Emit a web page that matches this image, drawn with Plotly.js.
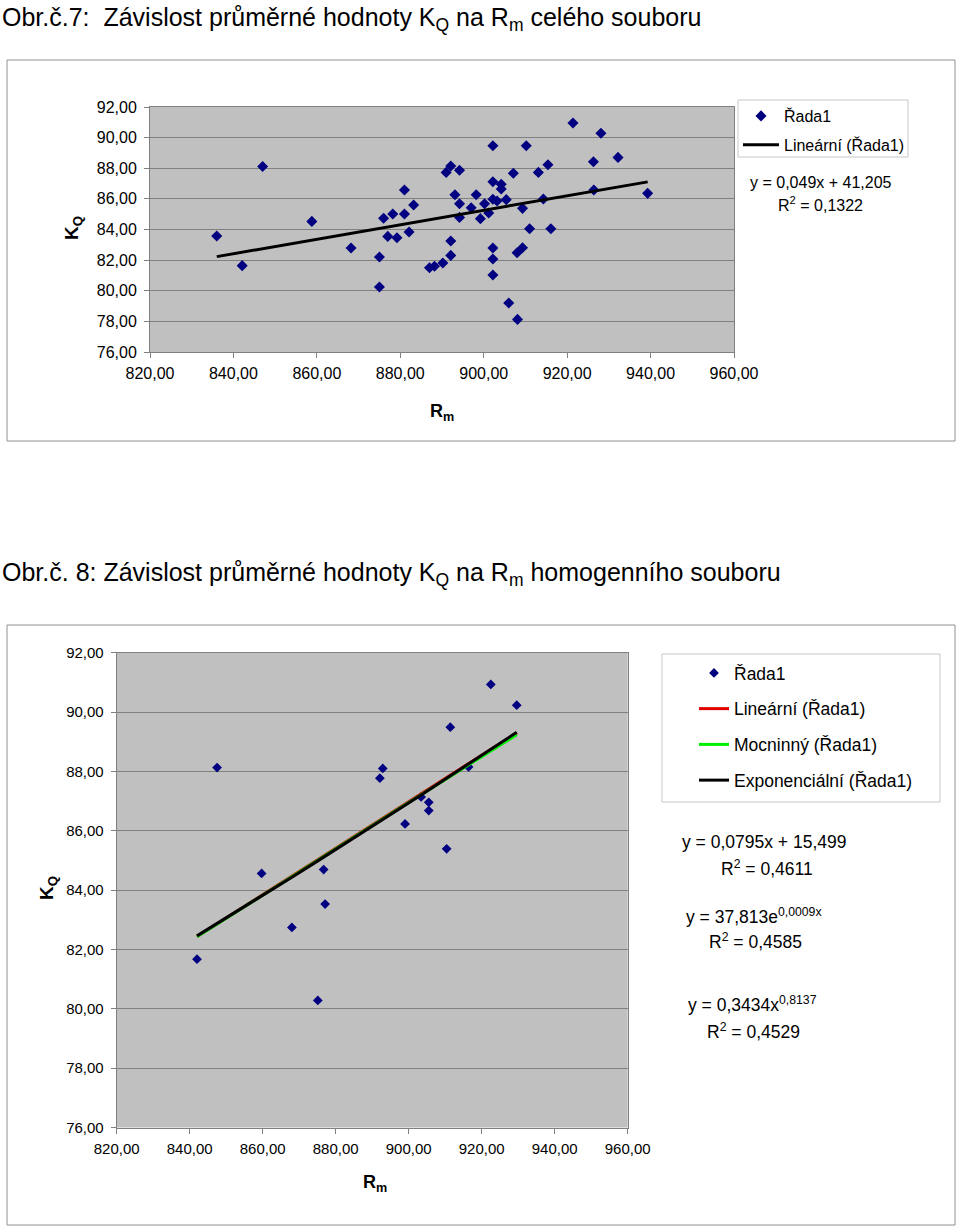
<!DOCTYPE html>
<html>
<head>
<meta charset="utf-8">
<script src="https://cdn.plot.ly/plotly-3.0.1.min.js"></script>
<style>
  html, body { margin: 0; padding: 0; background: #ffffff; }
  #chart { width: 960px; height: 1226px; }
</style>
</head>
<body>
<div id="chart"></div>
<script>
// ---------- DATA: Obr. 7 (celý soubor) ----------
const rmAll = [836.0, 842.1, 847.0, 858.8, 868.2, 875.0, 875.0, 876.0, 877.0, 878.2,
  879.2, 881.0, 881.0, 882.1, 883.2, 887.0, 888.2, 890.2, 892.1, 892.1,
  891.0, 892.1, 894.2, 893.1, 894.2, 894.2, 897.0, 898.2, 899.2, 900.2,
  901.2, 902.2, 902.2, 902.2, 902.2, 902.2, 902.2, 903.2, 904.2, 904.2,
  905.4, 906.0, 907.1, 908.1, 908.0, 909.3, 909.3, 910.2, 911.0, 913.1,
  914.3, 915.4, 916.1, 921.4, 926.3, 926.4, 928.1, 932.2, 939.3];
const kqAll = [83.57, 81.64, 88.12, 84.53, 82.79, 82.20, 80.24, 84.73, 83.55, 85.01,
  83.46, 86.58, 85.01, 83.84, 85.60, 81.50, 81.60, 81.81, 82.31, 83.25,
  87.73, 88.15, 87.87, 86.27, 85.68, 84.79, 85.42, 86.27, 84.71, 85.68,
  85.08, 85.97, 87.12, 89.47, 82.79, 82.07, 81.03, 85.86, 86.95, 86.64,
  85.95, 79.20, 87.67, 78.13, 82.48, 82.81, 85.38, 89.47, 84.05, 87.73,
  85.99, 88.23, 84.05, 90.95, 88.43, 86.58, 90.28, 88.71, 86.36];

// ---------- DATA: Obr. 8 (homogenní soubor) ----------
const rmHom = [842.0, 847.5, 859.7, 868.0, 875.1, 876.7, 877.1, 892.1, 892.9, 899.0,
  903.4, 905.5, 905.5, 910.4, 911.4, 916.4, 922.5, 929.6];
const kqHom = [81.67, 88.13, 84.56, 82.74, 80.28, 84.69, 83.53, 87.77, 88.10, 86.23,
  87.14, 86.96, 86.68, 85.39, 89.49, 88.15, 90.93, 90.23];

// ---------- TEXTS ----------
const title7 = "Obr.č.7:  Závislost průměrné hodnoty K<sub>Q</sub> na R<sub>m</sub> celého souboru";
const title8 = "Obr.č. 8: Závislost průměrné hodnoty K<sub>Q</sub> na R<sub>m</sub> homogenního souboru";
const seriesName = "Řada1";
const linName = "Lineární (Řada1)";
const powName = "Mocninný (Řada1)";
const expName = "Exponenciální (Řada1)";
const eq7 = ["y = 0,049x + 41,205", "R<sup>2</sup> = 0,1322"];
const eq8 = ["y = 0,0795x + 15,499", "R<sup>2</sup> = 0,4611",
             "y = 37,813e<sup>0,0009x</sup>", "R<sup>2</sup> = 0,4585",
             "y = 0,3434x<sup>0,8137</sup>", "R<sup>2</sup> = 0,4529"];

// ---------- least-squares trendlines (as Excel computes them) ----------
function linfit(xs, ys) {
  const n = xs.length;
  let sx = 0, sy = 0, sxx = 0, sxy = 0;
  for (let i = 0; i < n; i++) { sx += xs[i]; sy += ys[i]; sxx += xs[i]*xs[i]; sxy += xs[i]*ys[i]; }
  const a = (n*sxy - sx*sy) / (n*sxx - sx*sx);
  return { a: a, b: (sy - a*sx) / n };
}
function sortedX(xs) { return Array.from(new Set(xs)).sort((p, q) => p - q); }

const xs7 = sortedX(rmAll);
const f7 = linfit(rmAll, kqAll);
const lin7 = xs7.map(x => f7.a*x + f7.b);

const xs8 = sortedX(rmHom);
const f8 = linfit(rmHom, kqHom);
const lin8 = xs8.map(x => f8.a*x + f8.b);
const fe = linfit(rmHom, kqHom.map(Math.log));
const exp8 = xs8.map(x => Math.exp(fe.b) * Math.exp(fe.a*x));
const fp = linfit(rmHom.map(Math.log), kqHom.map(Math.log));
const pow8 = xs8.map(x => Math.exp(fp.b) * Math.pow(x, fp.a));

// ---------- helpers for pixel -> paper ----------
const W = 960, H = 1226;
const px = v => v / W;
const py = v => 1 - v / H;

const FONT = "Liberation Sans, Arial, sans-serif";
const navy = "#000080";
const gridc = "#808080";

const traces = [
  { x: rmAll, y: kqAll, type: "scatter", mode: "markers", name: seriesName,
    xaxis: "x", yaxis: "y", legend: "legend", legendgroup: "p",
    marker: { symbol: "diamond", size: 8.5, color: navy } },
  { x: xs7, y: lin7, type: "scatter", mode: "lines", name: linName,
    xaxis: "x", yaxis: "y", legend: "legend", legendgroup: "q",
    line: { color: "#000000", width: 3 } },

  { x: rmHom, y: kqHom, type: "scatter", mode: "markers", name: seriesName,
    xaxis: "x2", yaxis: "y2", legend: "legend2", legendgroup: "a",
    marker: { symbol: "diamond", size: 7.5, color: navy } },
  { x: xs8, y: lin8, type: "scatter", mode: "lines", name: linName,
    xaxis: "x2", yaxis: "y2", legend: "legend2", legendgroup: "b",
    line: { color: "#e00000", width: 3 } },
  { x: xs8, y: pow8, type: "scatter", mode: "lines", name: powName,
    xaxis: "x2", yaxis: "y2", legend: "legend2", legendgroup: "c",
    line: { color: "#00ee00", width: 3 } },
  { x: xs8, y: exp8, type: "scatter", mode: "lines", name: expName,
    xaxis: "x2", yaxis: "y2", legend: "legend2", legendgroup: "d",
    line: { color: "#000000", width: 3 } }
];

function xax(domain, anchor, fs) {
  return { domain: domain, anchor: anchor, range: [820, 960], tick0: 820, dtick: 20,
    tickformat: ".2f", ticks: "outside", ticklen: 5, tickcolor: gridc, tickwidth: 1,
    showline: true, linecolor: gridc, linewidth: 1, mirror: true,
    showgrid: false, zeroline: false, fixedrange: true,
    tickfont: { family: FONT, size: fs, color: "#000" }, ticklabelstandoff: 2 };
}
function yax(domain, anchor, fs) {
  return { domain: domain, anchor: anchor, range: [76, 92], tick0: 76, dtick: 2,
    tickformat: ".2f", ticks: "outside", ticklen: 5, tickcolor: gridc, tickwidth: 1,
    showline: true, linecolor: gridc, linewidth: 1, mirror: true,
    showgrid: true, gridcolor: gridc, gridwidth: 1, zeroline: false, fixedrange: true,
    tickfont: { family: FONT, size: fs, color: "#000" }, ticklabelstandoff: 4 };
}

function ann(text, x, y, size, opts) {
  return Object.assign({ text: text, xref: "paper", yref: "paper", x: px(x), y: py(y),
    xanchor: "left", yanchor: "middle", showarrow: false,
    font: { family: FONT, size: size, color: "#000" } }, opts || {});
}

const annotations = [
  ann(title7, 0, 1, 25, { yanchor: "top" }),
  ann(title8, 0, 556, 25, { yanchor: "top" }),
  ann("<b>K<sub>Q</sub></b>", 73, 228, 19, { xanchor: "center", textangle: -90 }),
  ann("<b>R<sub>m</sub></b>", 442, 412, 18, { xanchor: "center" }),
  ann("<b>K<sub>Q</sub></b>", 48, 888, 19, { xanchor: "center", textangle: -90 }),
  ann("<b>R<sub>m</sub></b>", 375, 1183, 18, { xanchor: "center" }),
  ann(eq7[0], 748, 182, 16),
  ann(eq7[1], 776, 204, 16),
  ann(eq8[0], 680, 842, 17.5),
  ann(eq8[1], 719, 868, 17.5),
  ann(eq8[2], 684, 916, 17.5),
  ann(eq8[3], 707, 941, 17.5),
  ann(eq8[4], 686, 1004, 17.5),
  ann(eq8[5], 705, 1031, 17.5)
];

const shapes = [
  // outer chart frames
  { type: "rect", xref: "paper", yref: "paper", x0: px(7), x1: px(955), y0: py(441), y1: py(60),
    line: { color: "#909090", width: 1 }, layer: "below" },
  { type: "rect", xref: "paper", yref: "paper", x0: px(7), x1: px(955), y0: py(1225), y1: py(625),
    line: { color: "#909090", width: 1 }, layer: "below" },
  // legend boxes
  { type: "rect", xref: "paper", yref: "paper", x0: px(738), x1: px(908), y0: py(157), y1: py(100),
    line: { color: "#c8c8c8", width: 1 }, fillcolor: "#ffffff", layer: "below" },
  { type: "rect", xref: "paper", yref: "paper", x0: px(662), x1: px(940), y0: py(802), y1: py(654),
    line: { color: "#c8c8c8", width: 1 }, fillcolor: "#ffffff", layer: "below" }
];

const layout = {
  width: W, height: H,
  margin: { l: 0, r: 0, t: 0, b: 0 },
  paper_bgcolor: "#ffffff", plot_bgcolor: "#c0c0c0",
  separators: ", ",
  font: { family: FONT, color: "#000" },
  showlegend: true,
  xaxis: xax([px(150), px(734)], "y", 16),
  yaxis: yax([py(352), py(107)], "x", 16),
  xaxis2: xax([px(116.7), px(627.7)], "y2", 15),
  yaxis2: yax([py(1127.5), py(652.7)], "x2", 15),
  legend: { x: px(738), y: py(99), xanchor: "left", yanchor: "top",
    bgcolor: "rgba(0,0,0,0)", borderwidth: 0,
    traceorder: "grouped", tracegroupgap: 5,
    font: { family: FONT, size: 16, color: "#000" }, itemwidth: 36 },
  legend2: { x: px(694), y: py(655), xanchor: "left", yanchor: "top",
    bgcolor: "rgba(0,0,0,0)", borderwidth: 0,
    traceorder: "grouped", tracegroupgap: 10,
    font: { family: FONT, size: 17.5, color: "#000" }, itemwidth: 30 },
  annotations: annotations,
  shapes: shapes
};

Plotly.newPlot("chart", traces, layout, { staticPlot: true, displayModeBar: false });
</script>
</body>
</html>
